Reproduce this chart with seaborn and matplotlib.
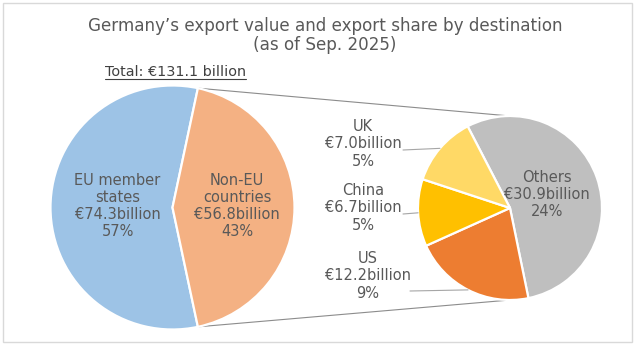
import numpy as np
import matplotlib
matplotlib.use("Agg")
import matplotlib.pyplot as plt
import seaborn as sns
from matplotlib.patches import Rectangle
from matplotlib.lines import Line2D

# ---- data ----
title_lines = ["Germany\u2019s export value and export share by destination", "(as of Sep. 2025)"]
total_label = "Total: \u20ac131.1 billion"

main_names = ["EU member\nstates", "Non-EU\ncountries"]
main_values = [74.3, 56.8]
main_shares = [57, 43]

sub_names = ["Others", "US", "China", "UK"]
sub_values = [30.9, 12.2, 6.7, 7.0]
sub_shares = [24, 9, 5, 5]

main_colors = ["#9DC3E6", "#F4B183"]
sub_colors = ["#BFBFBF", "#ED7D31", "#FFC000", "#FFD966"]

# ---- layout (pixels, origin top-left) ----
W, H = 634, 345
TXT = "#595959"

sns.set_theme(style="white")
plt.rcParams['font.family'] = ['DejaVu Sans']

fig = plt.figure(figsize=(W / 100, H / 100), dpi=100)
fig.patch.set_facecolor("white")
ax = fig.add_axes([0, 0, 1, 1])

def py(y):
    return H - y

c1 = (172.5, py(207.5)); r1 = 122
c2 = (510.0, py(208.0)); r2 = 92

wp = dict(edgecolor="white", linewidth=1.6)
start1 = 180.0 * main_values[1] / sum(main_values)
w1, _ = ax.pie(main_values, colors=main_colors, center=c1, radius=r1,
               startangle=start1, counterclock=True, wedgeprops=wp)
w2, _ = ax.pie(sub_values, colors=sub_colors, center=c2, radius=r2,
               startangle=117.4, counterclock=False, wedgeprops=wp)

ax.set_xlim(0, W)
ax.set_ylim(0, H)
ax.set_aspect("equal")
ax.axis("off")

def mid(w):
    return np.deg2rad((w.theta1 + w.theta2) / 2)

def lab(name, val, share):
    return f"{name}\n\u20ac{val:.1f}billion\n{share}%"

FS = 10.5
LS = 1.17
# main pie labels (inside)
for w, n, v, s, f in zip(w1, main_names, main_values, main_shares, [0.45, 0.53]):
    a = mid(w)
    ax.text(c1[0] + f * r1 * np.cos(a), c1[1] + f * r1 * np.sin(a) + 1.5,
            lab(n, v, s), ha="center", va="center", fontsize=FS, color=TXT,
            linespacing=LS)

# Others label inside
a = mid(w2[0])
ax.text(c2[0] + 0.43 * r2 * np.cos(a), c2[1] + 0.43 * r2 * np.sin(a),
        lab(sub_names[0], sub_values[0], sub_shares[0]), ha="center", va="center",
        fontsize=FS, color=TXT, linespacing=LS)

# outside labels with leader lines
out_pos = {1: (368, 276), 2: (363, 208), 3: (363, 144)}
lead_start = {1: (410, 291), 2: (403, 214), 3: (403, 150)}
for i in (1, 2, 3):
    x, y = out_pos[i]
    ax.text(x, py(y), lab(sub_names[i], sub_values[i], sub_shares[i]),
            ha="center", va="center", fontsize=FS, color=TXT, linespacing=LS)
    a = mid(w2[i])
    ex, ey = c2[0] + r2 * np.cos(a), c2[1] + r2 * np.sin(a)
    sx, sy = lead_start[i]
    ax.plot([sx, ex], [py(sy), ey], color="#A6A6A6", lw=0.8)

# connector lines between pies
for ang, sign in ((np.deg2rad(start1), 1), (np.deg2rad(-start1), -1)):
    x0, y0 = c1[0] + r1 * np.cos(ang), c1[1] + r1 * np.sin(ang)
    x1, y1 = c2[0], c2[1] + sign * r2
    ax.plot([x0, x1], [y0, y1], color="#8C8C8C", lw=0.8, zorder=0)

# title
title_y = [31, 50]
for t, y in zip(title_lines, title_y):
    fig.text(325 / W, py(y) / H, t, ha="center", va="baseline",
             fontsize=12.1, color=TXT)

# total label with underline
tt = fig.text(105 / W, py(76) / H, total_label, ha="left", va="baseline",
              fontsize=10.4, color="#404040")
fig.canvas.draw()
bb = tt.get_window_extent(fig.canvas.get_renderer())
fig.add_artist(Line2D([bb.x0 / W, bb.x1 / W], [py(78.5) / H, py(78.5) / H],
                      transform=fig.transFigure, color="#404040", lw=0.8))

# outer border
fig.add_artist(Rectangle((3 / W, 3 / H), 629 / W, 339 / H, transform=fig.transFigure,
                         fill=False, edgecolor="#D9D9D9", lw=1.0))

fig.savefig("out.png", dpi=100, facecolor="white")
